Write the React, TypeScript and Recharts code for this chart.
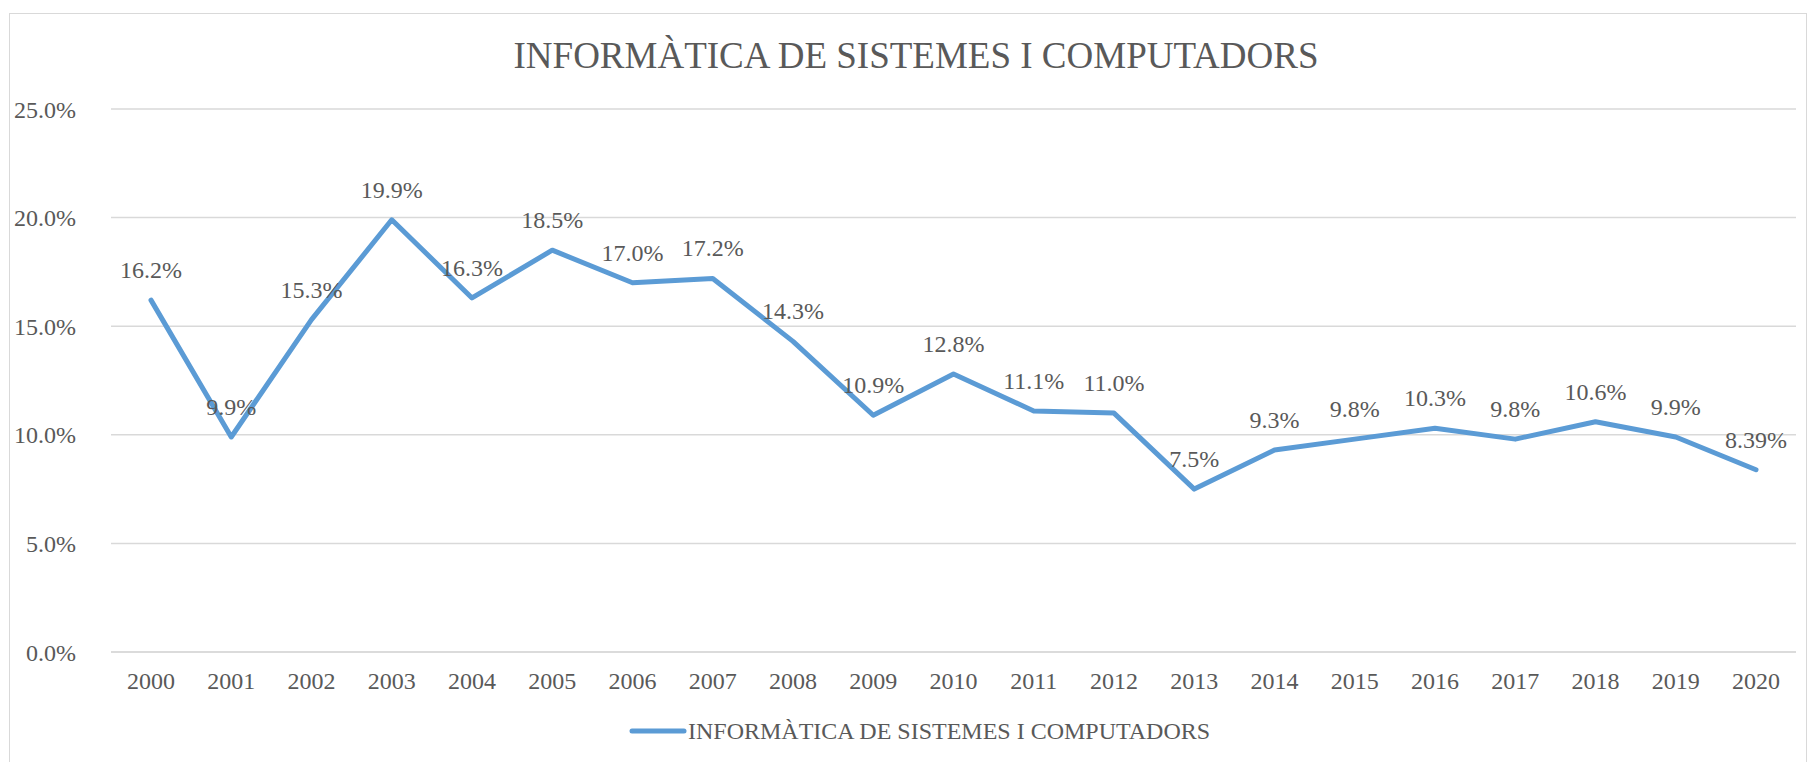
import { LineChart, Line, XAxis, YAxis, CartesianGrid, Legend, LabelList } from "recharts";

const TITLE = "INFORMÀTICA DE SISTEMES I COMPUTADORS";
const FONT = "'Liberation Serif', 'Times New Roman', serif";
const TEXT = "#595959";
const GRID = "#d9d9d9";
const BLUE = "#5B9BD5";

const years = [
  "2000", "2001", "2002", "2003", "2004", "2005", "2006", "2007", "2008", "2009", "2010",
  "2011", "2012", "2013", "2014", "2015", "2016", "2017", "2018", "2019", "2020",
];
const rates = [
  16.2, 9.9, 15.3, 19.9, 16.3, 18.5, 17.0, 17.2, 14.3, 10.9, 12.8,
  11.1, 11.0, 7.5, 9.3, 9.8, 10.3, 9.8, 10.6, 9.9, 8.39,
];
const rateLabels = [
  "16.2%", "9.9%", "15.3%", "19.9%", "16.3%", "18.5%", "17.0%", "17.2%", "14.3%", "10.9%", "12.8%",
  "11.1%", "11.0%", "7.5%", "9.3%", "9.8%", "10.3%", "9.8%", "10.6%", "9.9%", "8.39%",
];
const yTicks = [0, 5, 10, 15, 20, 25];

const data = years.map((year, i) => ({ year, rate: rates[i], label: rateLabels[i] }));

function LegendBox() {
  return (
    <svg width={1810} height={40} style={{ display: "block" }}>
      <line x1={632} x2={684} y1={20} y2={20} stroke={BLUE} strokeWidth={5} strokeLinecap="round" />
      <text x={688} y={28} fontFamily={FONT} fontSize={24} fill={TEXT}>
        {TITLE}
      </text>
    </svg>
  );
}

export default function App() {
  return (
    <div style={{ position: "absolute", left: 0, top: 0, width: 1810, height: 762, background: "#fff", overflow: "hidden" }}>
      <div
        style={{
          position: "absolute",
          left: 9,
          top: 13,
          width: 1798,
          height: 780,
          border: `1.5px solid ${GRID}`,
          boxSizing: "border-box",
        }}
      />
      <svg width={1810} height={100} style={{ position: "absolute", left: 0, top: 0 }}>
        <text x={916} y={68} textAnchor="middle" fontFamily={FONT} fontSize={37} fill={TEXT}>
          {TITLE}
        </text>
      </svg>
      <div style={{ position: "absolute", left: 0, top: 0 }}>
        <LineChart width={1810} height={762} data={data} margin={{ top: 109, right: 14, bottom: 11, left: 0 }}>
          <CartesianGrid vertical={false} stroke={GRID} strokeWidth={1.5} />
          <XAxis
            dataKey="year"
            interval={0}
            height={59}
            padding={{ left: 40, right: 40 }}
            axisLine={{ stroke: GRID, strokeWidth: 1.5 }}
            tickLine={false}
            tickSize={0}
            tickMargin={20}
            tick={{ fill: TEXT, fontSize: 24, fontFamily: FONT }}
          />
          <YAxis
            width={111}
            domain={[0, 25]}
            ticks={yTicks}
            axisLine={false}
            tickLine={false}
            tickSize={0}
            tickMargin={35}
            tickFormatter={(v) => `${Number(v).toFixed(1)}%`}
            tick={{ fill: TEXT, fontSize: 24, fontFamily: FONT }}
          />
          <Legend verticalAlign="bottom" height={40} wrapperStyle={{ left: 0, width: 1810 }} content={() => <LegendBox />} />
          <Line
            type="linear"
            dataKey="rate"
            stroke={BLUE}
            strokeWidth={5}
            strokeLinejoin="round"
            strokeLinecap="round"
            dot={false}
            isAnimationActive={false}
          >
            <LabelList dataKey="label" position="top" offset={22} fill={TEXT} fontSize={24} fontFamily={FONT} />
          </Line>
        </LineChart>
      </div>
    </div>
  );
}
